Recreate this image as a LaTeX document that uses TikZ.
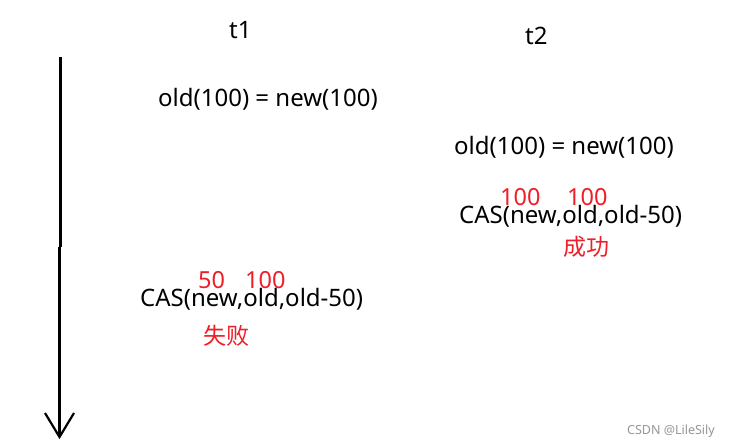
\documentclass[tikz,border=0pt]{standalone}
\usepackage{fontspec}
\setmainfont{Noto Sans}
\newfontfamily\cjkfont{Noto Sans CJK SC}
\definecolor{redtxt}{RGB}{240,30,40}
\definecolor{graytxt}{RGB}{150,150,150}
\begin{document}
\begin{tikzpicture}[x=1pt,y=-1pt,
  txt/.style={inner sep=0pt,anchor=base west,font=\fontsize{24}{27}\selectfont},
  red/.style={txt,text=redtxt,font=\fontsize{23.5}{26}\selectfont},
  redcjk/.style={inner sep=0pt,anchor=base west,text=redtxt,font=\cjkfont\fontsize{23}{26}\selectfont},
  wm/.style={inner sep=0pt,anchor=base west,text=graytxt,font=\fontsize{12.5}{14}\selectfont}]
\useasboundingbox[fill=white] (0,0) rectangle (736,447);
% time arrow
\coordinate (top) at (60.5,57);
\coordinate (mid) at (60.5,247);
\coordinate (tip) at (59.5,437);
\coordinate (hl) at (45,413);
\coordinate (hr) at (74,413);
\draw[line width=2.2pt] (top) -- (mid);
\draw[line width=2.2pt] (59.5,247) -- (tip);
\draw[line width=2.2pt,line join=miter] (hl) -- (tip) -- (hr);
% labels
\node[txt] (t1) at (229,38) {t1};
\node[txt] (t2) at (525,44) {t2};
\node[txt] (o1) at (158,106.5) {old(100) = new(100)};
\node[txt] (o2) at (454,154.5) {old(100) = new(100)};
% t2 CAS
\node[red] (r1) at (500,205) {100};
\node[red] (r2) at (567,205) {100};
\node[txt] (c2) at (459,223) {CAS(new,old,old-50)};
\node[redcjk] (s2) at (563,255) {成功};
% t1 CAS
\node[red] (l1) at (198,288.5) {50};
\node[red] (l2) at (245,288.5) {100};
\node[txt] (c1) at (140,306.5) {CAS(new,old,old-50)};
\node[redcjk] (s1) at (203,344) {失败};
\node[wm] (w) at (627,434) {CSDN @LileSily};
\end{tikzpicture}
\end{document}
